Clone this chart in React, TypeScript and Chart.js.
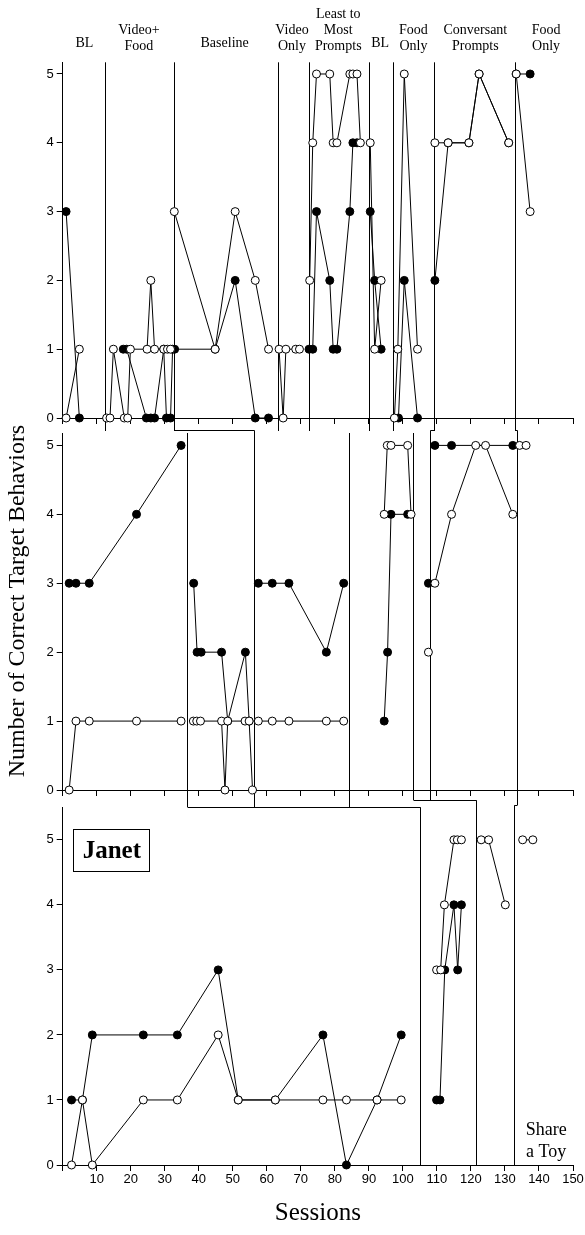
import React, { useEffect, useRef } from "react";
import { Chart, registerables } from "chart.js";

Chart.register(...registerables);

type Pt = [number, number];

// ---------------- DATA ----------------
// Each list = one phase; [session, number of correct target behaviors]
// Top panel
const topOpen: Pt[][] = [
  [[1.0, 0], [4.9, 1]],
  [[12.9, 0], [13.9, 0], [14.9, 1], [18.1, 0], [19.1, 0], [19.9, 1], [24.8, 1], [25.9, 2], [27.0, 1], [29.7, 1], [30.8, 1], [31.7, 1]],
  [[32.8, 3], [44.8, 1], [50.7, 3], [56.6, 2], [60.5, 1]],
  [[63.6, 1], [64.8, 0], [65.6, 1], [68.5, 1], [69.6, 1]],
  [[72.6, 2], [73.5, 4], [74.6, 5], [78.5, 5], [79.5, 4], [80.6, 4], [84.4, 5], [85.3, 5], [86.5, 5], [87.5, 4]],
  [[90.4, 4], [91.7, 1], [93.6, 2]],
  [[97.5, 0], [98.5, 1], [100.4, 5], [104.3, 1]],
  [[109.4, 4], [113.3, 4], [119.4, 4], [122.4, 5], [131.1, 4]],
  [[133.3, 5], [137.4, 3]],
];
const topFilled: Pt[][] = [
  [[1.0, 3], [4.9, 0]],
  [[17.8, 1], [18.8, 1], [24.6, 0], [25.9, 0], [27.0, 0], [29.7, 1], [30.5, 0], [31.7, 0], [32.3, 1]],
  [[32.9, 1], [44.8, 1], [50.7, 2], [56.6, 0], [60.5, 0]],
  [[72.4, 1], [73.5, 1], [74.6, 3], [78.5, 2], [79.5, 1], [80.6, 1], [84.4, 3], [85.3, 4], [86.5, 4]],
  [[90.4, 3], [91.7, 2], [93.6, 1]],
  [[98.7, 0], [100.4, 2], [104.3, 0]],
  [[109.4, 2], [113.3, 4], [119.4, 4], [122.4, 5], [131.1, 4]],
  [[133.3, 5], [137.4, 5]],
];

// Middle panel
const midOpen: Pt[][] = [
  [[1.9, 0], [3.9, 1], [7.8, 1], [21.7, 1], [34.8, 1]],
  [[38.4, 1], [39.4, 1], [40.5, 1], [46.7, 1], [47.7, 0], [48.5, 1], [53.6, 1], [54.8, 1], [55.8, 0]],
  [[57.5, 1], [61.6, 1], [66.5, 1], [77.5, 1], [82.6, 1]],
  [[94.5, 4], [95.4, 5], [96.5, 5], [101.4, 5], [102.4, 4]],
  [[107.5, 2]],
  [[109.4, 3], [114.3, 4], [121.4, 5], [124.3, 5], [132.3, 4]],
  [[134.3, 5], [136.2, 5]],
];
const midFilled: Pt[][] = [
  [[1.9, 3], [3.9, 3], [7.8, 3], [21.7, 4], [34.8, 5]],
  [[38.5, 3], [39.5, 2], [40.7, 2], [46.7, 2], [48.5, 1], [53.7, 2], [54.8, 1]],
  [[57.5, 3], [61.6, 3], [66.5, 3], [77.5, 2], [82.6, 3]],
  [[94.5, 1], [95.5, 2], [96.5, 4], [101.4, 4]],
  [[107.5, 3]],
  [[109.4, 5], [114.3, 5], [132.3, 5]],
];

// Bottom panel (Janet)
const botOpen: Pt[][] = [
  [[2.6, 0], [5.8, 1], [8.7, 0], [23.7, 1], [33.7, 1], [45.7, 2], [51.6, 1], [62.5, 1], [76.5, 1], [83.4, 1], [92.4, 1], [99.5, 1]],
  [[109.9, 3], [111.1, 3], [112.2, 4], [115.0, 5], [116.0, 5], [117.2, 5]],
  [[123.0, 5], [125.2, 5], [130.1, 4]],
  [[135.2, 5], [138.2, 5]],
];
const botFilled: Pt[][] = [
  [[2.6, 1], [5.8, 1], [8.7, 2], [23.7, 2], [33.7, 2], [45.7, 3], [51.6, 1], [62.5, 1], [76.5, 2], [83.4, 0], [92.4, 1], [99.5, 2]],
  [[109.9, 1], [110.9, 1], [112.3, 3], [115.0, 4], [116.1, 3], [117.2, 4]],
];

// Phase change lines (session values)
const topPhaseLines = [12.5, 32.6, 63.3, 72.3, 90.1, 97.15, 109.1, 133.0];
const midPhaseLines = [36.4, 56.3, 84.3, 103.1, 108.1, 133.5];
const botPhaseLines = [105, 121.4, 132.8];

// Phase labels
const phaseLabels = ["BL", "Video+\nFood", "Baseline", "Video\nOnly", "Least to\nMost\nPrompts", "BL", "Food\nOnly", "Conversant\nPrompts", "Food\nOnly"];
const phaseLabelAt = [6.4, 22.4, 47.6, 67.4, 81.0, 93.3, 103.1, 121.3, 142.1];

const xTicks = [0, 150, 10]; // min, max, step
const yTicks = [0, 5, 1];

const SANS = 'Arial, "Liberation Sans", sans-serif';
const SERIF = '"Times New Roman", "Liberation Serif", serif';

function toData(phases: Pt[][]) {
  const out: { x: number; y: number | null }[] = [];
  phases.forEach((ph, i) => {
    if (i > 0) {
      const prev = phases[i - 1];
      out.push({ x: (prev[prev.length - 1][0] + ph[0][0]) / 2, y: null });
    }
    ph.forEach(([x, y]) => out.push({ x, y }));
  });
  return out;
}

function vline(ctx: CanvasRenderingContext2D, x: number, y1: number, y2: number) {
  const xx = Math.round(x) + 0.5;
  ctx.beginPath();
  ctx.moveTo(xx, y1);
  ctx.lineTo(xx, y2);
  ctx.stroke();
}
function hline(ctx: CanvasRenderingContext2D, y: number, x1: number, x2: number) {
  const yy = Math.round(y) + 0.5;
  ctx.beginPath();
  ctx.moveTo(Math.round(x1) + 0.5, yy);
  ctx.lineTo(Math.round(x2) + 0.5, yy);
  ctx.stroke();
}

function dataset(label: string, phases: Pt[][], fillColor: string, order: number) {
  return {
    label,
    data: toData(phases),
    order,
    borderColor: "#000",
    borderWidth: 1,
    backgroundColor: fillColor,
    pointBackgroundColor: fillColor,
    pointBorderColor: "#000",
    pointBorderWidth: 1,
    pointRadius: 4,
    pointHoverRadius: 4,
    pointHitRadius: 0,
    fill: false,
    tension: 0,
    spanGaps: false,
    clip: false as any,
  };
}

function makeConfig(
  open: Pt[][],
  filled: Pt[][],
  yMax: number,
  padTop: number,
  padBottom: number,
  xHeight: number,
  bottomAxis: boolean,
  plugin: any
): any {
  return {
    type: "line",
    data: {
      datasets: [dataset("open", open, "#fff", 0), dataset("filled", filled, "#000", 1)],
    },
    options: {
      responsive: false,
      animation: false,
      devicePixelRatio: 1,
      events: [],
      layout: { padding: { left: 22.7, right: 12, top: padTop, bottom: padBottom } },
      plugins: { legend: { display: false }, tooltip: { enabled: false } },
      scales: {
        x: {
          type: "linear",
          min: xTicks[0],
          max: xTicks[1],
          ticks: {
            stepSize: xTicks[2],
            autoSkip: false,
            maxRotation: 0,
            padding: 1,
            color: "#000",
            font: { family: SANS, size: 13 },
            callback: (v: number) => (bottomAxis && v !== 0 ? String(v) : ""),
          },
          grid: { drawOnChartArea: false, drawTicks: true, tickLength: 6, color: "#000", tickColor: "#000" },
          border: { display: true, color: "#000", width: 1 },
          title: bottomAxis
            ? { display: true, text: "Sessions", color: "#000", font: { family: SERIF, size: 25 }, padding: { top: 0, bottom: 1 } }
            : { display: false },
          afterFit: (s: any) => {
            s.height = xHeight;
          },
        },
        y: {
          type: "linear",
          min: yTicks[0],
          max: yMax,
          ticks: {
            stepSize: yTicks[2],
            includeBounds: false,
            padding: 3,
            color: "#000",
            font: { family: SANS, size: 13 },
            callback: (v: number) => String(v),
          },
          grid: { drawOnChartArea: false, drawTicks: true, tickLength: 6, color: "#000", tickColor: "#000" },
          border: { display: true, color: "#000", width: 1 },
          afterFit: (s: any) => {
            s.width = 40;
          },
        },
      },
    },
    plugins: [plugin],
  };
}

const topPlugin = {
  id: "topDecor",
  beforeDatasetsDraw(chart: any) {
    const { ctx, chartArea: a, scales } = chart;
    const X = (v: number) => scales.x.getPixelForValue(v);
    ctx.save();
    ctx.strokeStyle = "#000";
    ctx.lineWidth = 1;
    topPhaseLines.forEach((v) => vline(ctx, X(v), a.top, a.bottom + 13));
    hline(ctx, a.bottom + 12, X(32.6), X(56.3));
    hline(ctx, a.bottom + 12, X(109.1), X(108.1));
    hline(ctx, a.bottom + 12, X(133.0), X(133.5));
    ctx.restore();
  },
  afterDraw(chart: any) {
    const { ctx, scales } = chart;
    const X = (v: number) => scales.x.getPixelForValue(v);
    ctx.save();
    ctx.fillStyle = "#000";
    ctx.font = `14px ${SERIF}`;
    ctx.textAlign = "center";
    ctx.textBaseline = "middle";
    phaseLabels.forEach((lab, i) => {
      const lines = lab.split("\n");
      const n = lines.length;
      const base = n === 1 ? 43.5 : 46;
      lines.forEach((ln, j) => {
        ctx.fillText(ln, X(phaseLabelAt[i]), base - (n - 1 - j) * 16);
      });
    });
    ctx.restore();
  },
};

const midPlugin = {
  id: "midDecor",
  beforeDatasetsDraw(chart: any) {
    const { ctx, chartArea: a, scales } = chart;
    const X = (v: number) => scales.x.getPixelForValue(v);
    ctx.save();
    ctx.strokeStyle = "#000";
    ctx.lineWidth = 1;
    const top = a.top - 2.5;
    vline(ctx, X(midPhaseLines[0]), a.top, a.bottom + 17);
    vline(ctx, X(midPhaseLines[1]), top, a.bottom + 17);
    vline(ctx, X(midPhaseLines[2]), a.top, a.bottom + 17);
    vline(ctx, X(midPhaseLines[3]), a.top, a.bottom + 10);
    vline(ctx, X(midPhaseLines[4]), top, a.bottom + 10);
    vline(ctx, X(midPhaseLines[5]), top, a.bottom + 15);
    hline(ctx, a.bottom + 17, X(36.4), X(105));
    hline(ctx, a.bottom + 10, X(103.1), X(121.4));
    hline(ctx, a.bottom + 15, X(133.5), X(132.8));
    ctx.restore();
  },
  afterDraw(chart: any) {
    const { ctx } = chart;
    ctx.save();
    ctx.fillStyle = "#000";
    ctx.font = `24px ${SERIF}`;
    ctx.textAlign = "center";
    ctx.textBaseline = "middle";
    ctx.translate(18, 601);
    ctx.rotate(-Math.PI / 2);
    ctx.fillText("Number of Correct Target Behaviors", 0, 0);
    ctx.restore();
  },
};

const botPlugin = {
  id: "botDecor",
  beforeDatasetsDraw(chart: any) {
    const { ctx, chartArea: a, scales } = chart;
    const X = (v: number) => scales.x.getPixelForValue(v);
    ctx.save();
    ctx.strokeStyle = "#000";
    ctx.lineWidth = 1;
    vline(ctx, X(botPhaseLines[0]), a.top, a.bottom);
    vline(ctx, X(botPhaseLines[1]), a.top - 7, a.bottom);
    vline(ctx, X(botPhaseLines[2]), a.top - 2, a.bottom);
    ctx.restore();
  },
  afterDraw(chart: any) {
    const { ctx, chartArea: a, scales } = chart;
    const X = (v: number) => scales.x.getPixelForValue(v);
    ctx.save();
    ctx.strokeStyle = "#000";
    ctx.lineWidth = 1;
    ctx.strokeRect(Math.round(a.left + 10.6) + 0.5, Math.round(a.top + 22) + 0.5, 76, 42);
    ctx.fillStyle = "#000";
    ctx.textAlign = "center";
    ctx.textBaseline = "middle";
    ctx.font = `bold 25px ${SERIF}`;
    ctx.fillText("Janet", a.left + 10.6 + 38.5, a.top + 22 + 22);
    ctx.font = `18px ${SERIF}`;
    ctx.fillText("Share", X(142.1), a.bottom - 35);
    ctx.fillText("a Toy", X(142.1), a.bottom - 13);
    ctx.restore();
  },
};

export default function App() {
  const r1 = useRef<HTMLCanvasElement>(null);
  const r2 = useRef<HTMLCanvasElement>(null);
  const r3 = useRef<HTMLCanvasElement>(null);

  useEffect(() => {
    const charts: Chart[] = [];
    if (r1.current) charts.push(new Chart(r1.current, makeConfig(topOpen, topFilled, 5.17, 62.3, 797, 20, false, topPlugin)));
    if (r2.current) charts.push(new Chart(r2.current, makeConfig(midOpen, midFilled, 5.18, 433, 425, 20, false, midPlugin)));
    if (r3.current) charts.push(new Chart(r3.current, makeConfig(botOpen, botFilled, 5.5, 807.3, 6, 64, true, botPlugin)));
    return () => charts.forEach((c) => c.destroy());
  }, []);

  const cs: React.CSSProperties = { position: "absolute", left: 0, top: 0 };
  return (
    <div style={{ position: "absolute", left: 0, top: 0, width: 585, height: 1235, background: "#fff" }}>
      <canvas ref={r3} width={585} height={1235} style={cs} />
      <canvas ref={r2} width={585} height={1235} style={cs} />
      <canvas ref={r1} width={585} height={1235} style={cs} />
    </div>
  );
}
